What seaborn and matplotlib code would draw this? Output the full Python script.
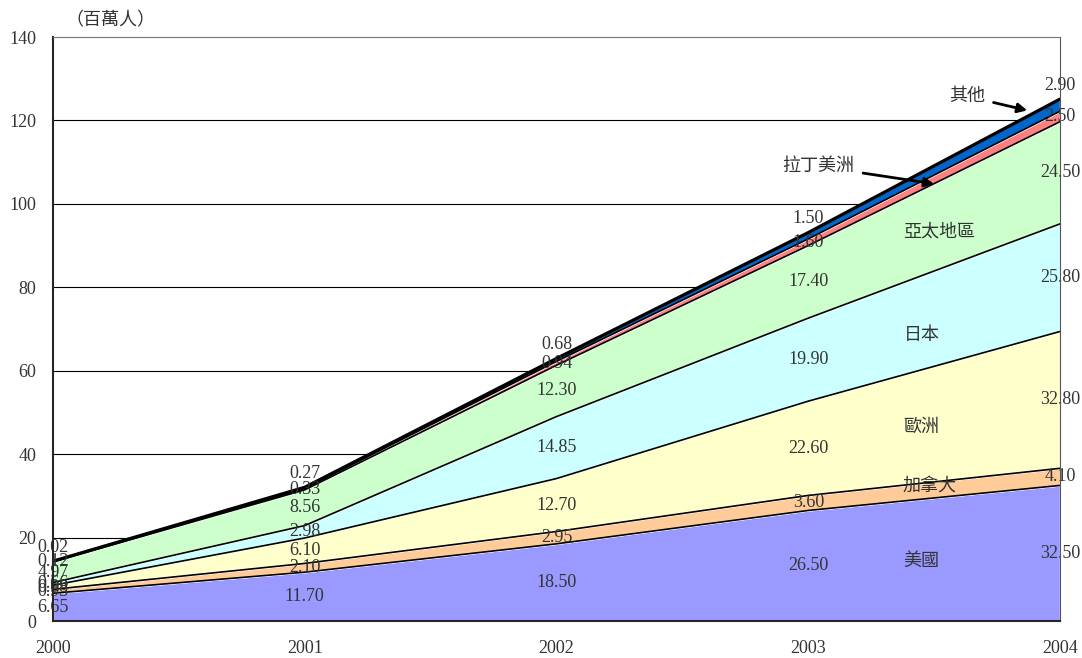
import numpy as np
import matplotlib.pyplot as plt
import seaborn as sns

years = [2000, 2001, 2002, 2003, 2004]
regions = ["美國", "加拿大", "歐洲", "日本", "亞太地區", "拉丁美洲", "其他"]

usa = [6.65, 11.70, 18.50, 26.50, 32.50]
canada = [0.93, 2.10, 2.95, 3.60, 4.10]
europe = [0.98, 6.10, 12.70, 22.60, 32.80]
japan = [0.66, 2.98, 14.85, 19.90, 25.80]
asia = [4.97, 8.56, 12.30, 17.40, 24.50]
latin = [0.12, 0.33, 0.94, 1.60, 2.50]
other = [0.02, 0.27, 0.68, 1.50, 2.90]

colors = ["#9999ff", "#ffcc99", "#ffffcc", "#ccffff", "#ccffcc", "#ff8080", "#0066cc"]

sns.set_style("white")
plt.rcParams['font.family'] = ['Liberation Serif', 'Noto Sans CJK TC', 'DejaVu Sans']
cjk = ['Noto Sans CJK TC', 'DejaVu Sans']
txt = "#333333"

series = [usa, canada, europe, japan, asia, latin, other]
vals = np.array(series)
cum = np.cumsum(vals, axis=0)

fig = plt.figure(figsize=(10.82, 6.58), dpi=100)
ax = fig.add_axes([53 / 1082, 37 / 658, (1060 - 53) / 1082, (621 - 37) / 658])

# grid behind the areas
for g in range(20, 140, 20):
    ax.axhline(g, color="black", lw=0.8, zorder=0)

ax.stackplot(years, vals, colors=colors, zorder=1)

# band borders
for i in range(len(series)):
    lw = 2.4 if i == len(series) - 1 else 1.2
    sns.lineplot(x=years, y=cum[i], color="black", lw=lw, ax=ax, zorder=2)

# value labels: middle of each band, "other" sits just above the top line
for i, s in enumerate(series):
    base = cum[i] - vals[i]
    last = i == len(series) - 1
    for j, y in enumerate(years):
        if last:
            ax.annotate(f"{s[j]:.2f}", xy=(y, cum[i][j]), xytext=(0, 10),
                        textcoords="offset points", ha="center", va="center",
                        fontsize=13, color=txt, zorder=3)
        else:
            ax.text(y, base[j] + vals[i][j] / 2, f"{s[j]:.2f}", ha="center", va="center",
                    fontsize=13, color=txt, zorder=3)

# region names
name_pos = {"美國": (2003.45, 14.5), "加拿大": (2003.48, 32.5), "歐洲": (2003.45, 46.5),
            "日本": (2003.45, 68.5), "亞太地區": (2003.52, 93.3)}
for name, (x, y) in name_pos.items():
    ax.text(x, y, name, ha="center", va="center", fontsize=13, color=txt,
            family=cjk, zorder=3)

ax.annotate("拉丁美洲", xy=(2003.5, 104.8), xytext=(2003.04, 109), ha="center", va="center",
            fontsize=13, color=txt, family=cjk,
            arrowprops=dict(arrowstyle="-|>", color="black", lw=2, mutation_scale=14,
                            shrinkA=4, shrinkB=0))
ax.annotate("其他", xy=(2003.87, 122.4), xytext=(2003.63, 125.8), ha="center", va="center",
            fontsize=13, color=txt, family=cjk,
            arrowprops=dict(arrowstyle="-|>", color="black", lw=2, mutation_scale=14,
                            shrinkA=4, shrinkB=0))

ax.set_xlim(2000, 2004)
ax.set_ylim(0, 140)
ax.set_xticks(years)
ax.set_xticklabels([str(y) for y in years])
ax.set_yticks(range(0, 141, 20))
ax.tick_params(axis="both", direction="in", length=4, labelsize=13, colors="black")
ax.tick_params(axis="y", pad=12)
ax.tick_params(axis="x", pad=14)
for lab in ax.get_xticklabels() + ax.get_yticklabels():
    lab.set_color(txt)

ax.spines["left"].set_linewidth(1.5)
ax.spines["bottom"].set_linewidth(1.5)
ax.spines["top"].set_color("#777777")
ax.spines["right"].set_color("#555555")
for sp in ax.spines.values():
    sp.set_zorder(4)

fig.text(65 / 1082, 1 - 20 / 658, "（百萬人）", ha="left", va="center", fontsize=13,
         color=txt, family=cjk)

fig.savefig("out.png", dpi=100)
